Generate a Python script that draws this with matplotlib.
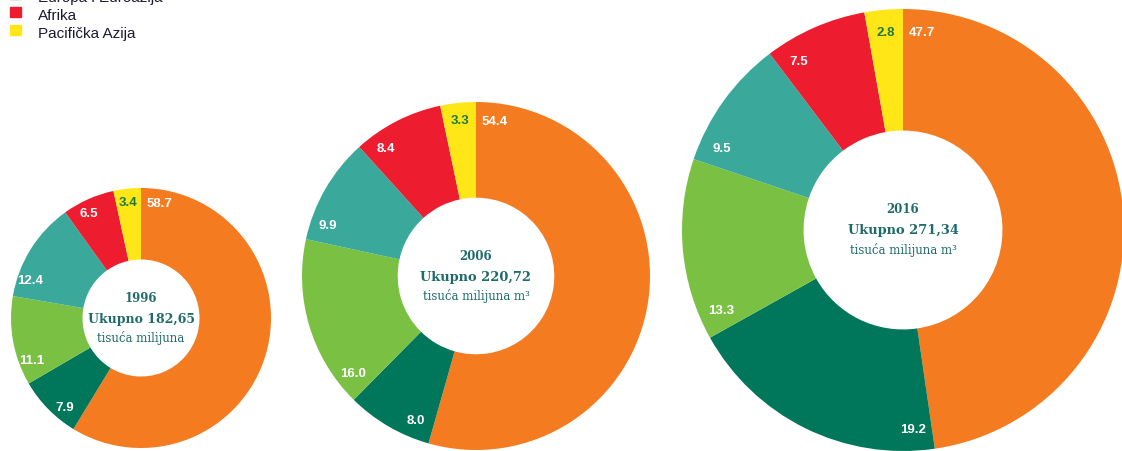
import matplotlib.pyplot as plt
import numpy as np
from matplotlib.patches import Rectangle

# === DATA ===
godine = ['1996', '2006', '2016']
ukupno = ['182,65', '220,72', '271,34']
jedinica = ['tisuća milijuna', 'tisuća milijuna m³', 'tisuća milijuna m³']
udjeli = [
    [58.7, 7.9, 11.1, 12.4, 6.5, 3.4],
    [54.4, 8.0, 16.0, 9.9, 8.4, 3.3],
    [47.7, 19.2, 13.3, 9.5, 7.5, 2.8],
]
boje = ['#F47B20', '#00765A', '#7AC143', '#3AA99B', '#ED1C2E', '#FFE617']
legenda_nazivi = ['Europa i Euroazija', 'Afrika', 'Pacifička Azija']
legenda_boje = ['#3AA99B', '#ED1C2E', '#FFE617']

# layout (piksel koordinate, y od dna)
W, H = 1122, 452
centri = [(141, H - 319), (476, H - 277), (903, H - 231)]
radijusi = [130, 174, 221]
vel_ukupno = [9.0, 9.4, 9.4]
tekst_boja = '#1F6B6A'

fig = plt.figure(figsize=(W / 100, H / 100), dpi=100)
ax = fig.add_axes([0, 0, 1, 1])

for i in range(3):
    cx, cy = centri[i]
    R = radijusi[i]
    ax.pie(udjeli[i], colors=boje, startangle=90, counterclock=False,
           radius=R, center=(cx, cy),
           wedgeprops=dict(width=R * 0.55, edgecolor='none', linewidth=0))

    # oznake vrijednosti, blizu pocetka svakog isjecka
    start = 0.0
    r = R * 0.9
    for j, v in enumerate(udjeli[i]):
        span = v / 100 * 360
        pomak = min(np.degrees(19 / r), span / 2)
        kut = np.radians(start + pomak)
        x = cx + r * np.sin(kut)
        y = cy + r * np.cos(kut)
        c = '#1E7A3C' if boje[j] == '#FFE617' else 'white'
        ax.text(x, y, f'{v:.1f}', ha='center', va='center', color=c,
                fontsize=9.5, fontweight='bold', family='Liberation Sans')
        start += span

    # tekst u sredini
    ax.text(cx, cy + 21, godine[i], ha='center', va='center', color=tekst_boja,
            fontsize=8.5, fontweight='bold', family='DejaVu Serif')
    ax.text(cx, cy, 'Ukupno ' + ukupno[i], ha='center', va='center',
            color=tekst_boja, fontsize=vel_ukupno[i], fontweight='bold',
            family='DejaVu Serif')
    ax.text(cx, cy - 19, jedinica[i], ha='center', va='center', color=tekst_boja,
            fontsize=8.5, family='DejaVu Serif')

# legenda (gornji lijevi kut, djelomicno odrezana kao u originalu)
for k, (naziv, b) in enumerate(zip(legenda_nazivi, legenda_boje)):
    yc = H - (-5 + k * 18)
    ax.add_patch(Rectangle((10, yc - 5), 11, 10, color=b, clip_on=False))
    ax.text(38, yc - 3, naziv, ha='left', va='center', color='#1A1A33',
            fontsize=11, family='Liberation Sans', clip_on=False)

ax.set_xlim(0, W)
ax.set_ylim(0, H)
ax.set_aspect('equal')
ax.axis('off')

fig.savefig('out.png', dpi=100)
